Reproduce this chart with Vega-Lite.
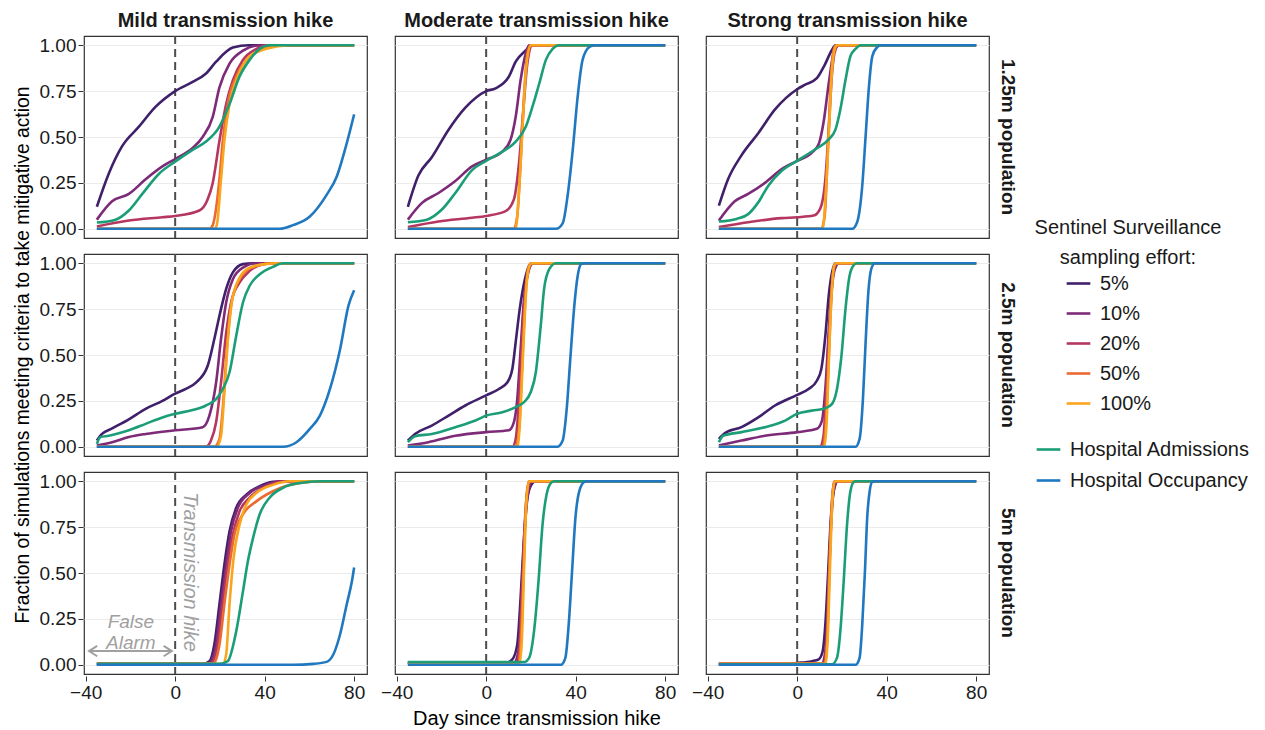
{
"$schema":"https://vega.github.io/schema/vega-lite/v6.json",
"background":"white",
"padding":{"left":13,"top":11,"right":0,"bottom":0},
"data":{"values":[
{"r":"1.25m","c":"Mild","s":"5%","x":-35,"y":0.12},{"r":"1.25m","c":"Mild","s":"5%","x":-29.7,"y":0.30},{"r":"1.25m","c":"Mild","s":"5%","x":-23.7,"y":0.45},{"r":"1.25m","c":"Mild","s":"5%","x":-16.2,"y":0.556},{"r":"1.25m","c":"Mild","s":"5%","x":-8.7,"y":0.665},{"r":"1.25m","c":"Mild","s":"5%","x":0,"y":0.75},{"r":"1.25m","c":"Mild","s":"5%","x":7.8,"y":0.80},{"r":"1.25m","c":"Mild","s":"5%","x":13.8,"y":0.846},{"r":"1.25m","c":"Mild","s":"5%","x":18.3,"y":0.91},{"r":"1.25m","c":"Mild","s":"5%","x":25.8,"y":0.987},{"r":"1.25m","c":"Mild","s":"5%","x":33,"y":1},{"r":"1.25m","c":"Mild","s":"5%","x":80,"y":1},
{"r":"1.25m","c":"Mild","s":"10%","x":-35,"y":0.05},{"r":"1.25m","c":"Mild","s":"10%","x":-28.2,"y":0.15},{"r":"1.25m","c":"Mild","s":"10%","x":-20.7,"y":0.19},{"r":"1.25m","c":"Mild","s":"10%","x":-13.2,"y":0.27},{"r":"1.25m","c":"Mild","s":"10%","x":-5.7,"y":0.34},{"r":"1.25m","c":"Mild","s":"10%","x":0,"y":0.38},{"r":"1.25m","c":"Mild","s":"10%","x":7.8,"y":0.44},{"r":"1.25m","c":"Mild","s":"10%","x":12.3,"y":0.50},{"r":"1.25m","c":"Mild","s":"10%","x":16.8,"y":0.61},{"r":"1.25m","c":"Mild","s":"10%","x":19.8,"y":0.77},{"r":"1.25m","c":"Mild","s":"10%","x":24.3,"y":0.90},{"r":"1.25m","c":"Mild","s":"10%","x":30.3,"y":0.97},{"r":"1.25m","c":"Mild","s":"10%","x":37.8,"y":1},{"r":"1.25m","c":"Mild","s":"10%","x":80,"y":1},
{"r":"1.25m","c":"Mild","s":"20%","x":-35,"y":0.013},{"r":"1.25m","c":"Mild","s":"20%","x":-20.7,"y":0.045},{"r":"1.25m","c":"Mild","s":"20%","x":-5.7,"y":0.063},{"r":"1.25m","c":"Mild","s":"20%","x":0,"y":0.07},{"r":"1.25m","c":"Mild","s":"20%","x":10.8,"y":0.10},{"r":"1.25m","c":"Mild","s":"20%","x":14.5,"y":0.16},{"r":"1.25m","c":"Mild","s":"20%","x":16.8,"y":0.25},{"r":"1.25m","c":"Mild","s":"20%","x":19.8,"y":0.48},{"r":"1.25m","c":"Mild","s":"20%","x":22.8,"y":0.68},{"r":"1.25m","c":"Mild","s":"20%","x":25.8,"y":0.81},{"r":"1.25m","c":"Mild","s":"20%","x":30.3,"y":0.92},{"r":"1.25m","c":"Mild","s":"20%","x":36.3,"y":0.98},{"r":"1.25m","c":"Mild","s":"20%","x":40.7,"y":1},{"r":"1.25m","c":"Mild","s":"20%","x":80,"y":1},
{"r":"1.25m","c":"Mild","s":"50%","x":-35,"y":0},{"r":"1.25m","c":"Mild","s":"50%","x":15.3,"y":0},{"r":"1.25m","c":"Mild","s":"50%","x":16.8,"y":0.02},{"r":"1.25m","c":"Mild","s":"50%","x":19.8,"y":0.27},{"r":"1.25m","c":"Mild","s":"50%","x":21.3,"y":0.48},{"r":"1.25m","c":"Mild","s":"50%","x":23.5,"y":0.68},{"r":"1.25m","c":"Mild","s":"50%","x":27.3,"y":0.83},{"r":"1.25m","c":"Mild","s":"50%","x":31.8,"y":0.92},{"r":"1.25m","c":"Mild","s":"50%","x":37.8,"y":0.97},{"r":"1.25m","c":"Mild","s":"50%","x":46.7,"y":1},{"r":"1.25m","c":"Mild","s":"50%","x":80,"y":1},
{"r":"1.25m","c":"Mild","s":"100%","x":-35,"y":0},{"r":"1.25m","c":"Mild","s":"100%","x":17.5,"y":0},{"r":"1.25m","c":"Mild","s":"100%","x":18.6,"y":0.02},{"r":"1.25m","c":"Mild","s":"100%","x":20.5,"y":0.27},{"r":"1.25m","c":"Mild","s":"100%","x":22,"y":0.48},{"r":"1.25m","c":"Mild","s":"100%","x":24.3,"y":0.68},{"r":"1.25m","c":"Mild","s":"100%","x":28,"y":0.83},{"r":"1.25m","c":"Mild","s":"100%","x":33.3,"y":0.94},{"r":"1.25m","c":"Mild","s":"100%","x":40.7,"y":0.98},{"r":"1.25m","c":"Mild","s":"100%","x":51,"y":1},{"r":"1.25m","c":"Mild","s":"100%","x":80,"y":1},
{"r":"1.25m","c":"Mild","s":"HA","x":-35,"y":0.034},{"r":"1.25m","c":"Mild","s":"HA","x":-26.7,"y":0.05},{"r":"1.25m","c":"Mild","s":"HA","x":-20.7,"y":0.10},{"r":"1.25m","c":"Mild","s":"HA","x":-14.7,"y":0.19},{"r":"1.25m","c":"Mild","s":"HA","x":-7.2,"y":0.30},{"r":"1.25m","c":"Mild","s":"HA","x":0,"y":0.366},{"r":"1.25m","c":"Mild","s":"HA","x":7.8,"y":0.43},{"r":"1.25m","c":"Mild","s":"HA","x":13.8,"y":0.475},{"r":"1.25m","c":"Mild","s":"HA","x":19.8,"y":0.556},{"r":"1.25m","c":"Mild","s":"HA","x":24.3,"y":0.68},{"r":"1.25m","c":"Mild","s":"HA","x":28.8,"y":0.83},{"r":"1.25m","c":"Mild","s":"HA","x":33.3,"y":0.92},{"r":"1.25m","c":"Mild","s":"HA","x":37.8,"y":0.98},{"r":"1.25m","c":"Mild","s":"HA","x":42.2,"y":1},{"r":"1.25m","c":"Mild","s":"HA","x":80,"y":1},
{"r":"1.25m","c":"Mild","s":"HO","x":-35,"y":0},{"r":"1.25m","c":"Mild","s":"HO","x":46.7,"y":0},{"r":"1.25m","c":"Mild","s":"HO","x":52.7,"y":0.02},{"r":"1.25m","c":"Mild","s":"HO","x":60.2,"y":0.067},{"r":"1.25m","c":"Mild","s":"HO","x":67.7,"y":0.185},{"r":"1.25m","c":"Mild","s":"HO","x":72.2,"y":0.284},{"r":"1.25m","c":"Mild","s":"HO","x":76.7,"y":0.466},{"r":"1.25m","c":"Mild","s":"HO","x":80,"y":0.623},

{"r":"1.25m","c":"Moderate","s":"5%","x":-35,"y":0.12},{"r":"1.25m","c":"Moderate","s":"5%","x":-30.3,"y":0.29},{"r":"1.25m","c":"Moderate","s":"5%","x":-24.3,"y":0.39},{"r":"1.25m","c":"Moderate","s":"5%","x":-16.8,"y":0.54},{"r":"1.25m","c":"Moderate","s":"5%","x":-9.3,"y":0.66},{"r":"1.25m","c":"Moderate","s":"5%","x":0,"y":0.75},{"r":"1.25m","c":"Moderate","s":"5%","x":4.2,"y":0.765},{"r":"1.25m","c":"Moderate","s":"5%","x":10.2,"y":0.83},{"r":"1.25m","c":"Moderate","s":"5%","x":13.2,"y":0.91},{"r":"1.25m","c":"Moderate","s":"5%","x":18.4,"y":0.98},{"r":"1.25m","c":"Moderate","s":"5%","x":19.9,"y":1},{"r":"1.25m","c":"Moderate","s":"5%","x":80,"y":1},
{"r":"1.25m","c":"Moderate","s":"10%","x":-35,"y":0.05},{"r":"1.25m","c":"Moderate","s":"10%","x":-28.8,"y":0.14},{"r":"1.25m","c":"Moderate","s":"10%","x":-21.3,"y":0.195},{"r":"1.25m","c":"Moderate","s":"10%","x":-13.8,"y":0.26},{"r":"1.25m","c":"Moderate","s":"10%","x":-6.3,"y":0.34},{"r":"1.25m","c":"Moderate","s":"10%","x":0,"y":0.376},{"r":"1.25m","c":"Moderate","s":"10%","x":7.2,"y":0.42},{"r":"1.25m","c":"Moderate","s":"10%","x":10.9,"y":0.485},{"r":"1.25m","c":"Moderate","s":"10%","x":13.2,"y":0.61},{"r":"1.25m","c":"Moderate","s":"10%","x":15.4,"y":0.81},{"r":"1.25m","c":"Moderate","s":"10%","x":17.7,"y":0.955},{"r":"1.25m","c":"Moderate","s":"10%","x":19.2,"y":1},{"r":"1.25m","c":"Moderate","s":"10%","x":80,"y":1},
{"r":"1.25m","c":"Moderate","s":"20%","x":-35,"y":0.01},{"r":"1.25m","c":"Moderate","s":"20%","x":-21.3,"y":0.04},{"r":"1.25m","c":"Moderate","s":"20%","x":-6.3,"y":0.06},{"r":"1.25m","c":"Moderate","s":"20%","x":0,"y":0.07},{"r":"1.25m","c":"Moderate","s":"20%","x":8.7,"y":0.096},{"r":"1.25m","c":"Moderate","s":"20%","x":12.4,"y":0.16},{"r":"1.25m","c":"Moderate","s":"20%","x":14.7,"y":0.36},{"r":"1.25m","c":"Moderate","s":"20%","x":16.5,"y":0.63},{"r":"1.25m","c":"Moderate","s":"20%","x":18.4,"y":0.90},{"r":"1.25m","c":"Moderate","s":"20%","x":20.7,"y":1},{"r":"1.25m","c":"Moderate","s":"20%","x":80,"y":1},
{"r":"1.25m","c":"Moderate","s":"50%","x":-35,"y":0},{"r":"1.25m","c":"Moderate","s":"50%","x":12.4,"y":0},{"r":"1.25m","c":"Moderate","s":"50%","x":13.9,"y":0.07},{"r":"1.25m","c":"Moderate","s":"50%","x":15.4,"y":0.36},{"r":"1.25m","c":"Moderate","s":"50%","x":16.9,"y":0.72},{"r":"1.25m","c":"Moderate","s":"50%","x":18.4,"y":0.955},{"r":"1.25m","c":"Moderate","s":"50%","x":19.9,"y":1},{"r":"1.25m","c":"Moderate","s":"50%","x":80,"y":1},
{"r":"1.25m","c":"Moderate","s":"100%","x":-35,"y":0},{"r":"1.25m","c":"Moderate","s":"100%","x":13.2,"y":0},{"r":"1.25m","c":"Moderate","s":"100%","x":14.7,"y":0.21},{"r":"1.25m","c":"Moderate","s":"100%","x":16.2,"y":0.54},{"r":"1.25m","c":"Moderate","s":"100%","x":17.7,"y":0.85},{"r":"1.25m","c":"Moderate","s":"100%","x":19.9,"y":1},{"r":"1.25m","c":"Moderate","s":"100%","x":80,"y":1},
{"r":"1.25m","c":"Moderate","s":"HA","x":-35,"y":0.036},{"r":"1.25m","c":"Moderate","s":"HA","x":-26.5,"y":0.05},{"r":"1.25m","c":"Moderate","s":"HA","x":-19.8,"y":0.105},{"r":"1.25m","c":"Moderate","s":"HA","x":-13.8,"y":0.195},{"r":"1.25m","c":"Moderate","s":"HA","x":-6.3,"y":0.32},{"r":"1.25m","c":"Moderate","s":"HA","x":0,"y":0.37},{"r":"1.25m","c":"Moderate","s":"HA","x":7.2,"y":0.42},{"r":"1.25m","c":"Moderate","s":"HA","x":13.2,"y":0.475},{"r":"1.25m","c":"Moderate","s":"HA","x":17.7,"y":0.556},{"r":"1.25m","c":"Moderate","s":"HA","x":20.7,"y":0.665},{"r":"1.25m","c":"Moderate","s":"HA","x":23.7,"y":0.79},{"r":"1.25m","c":"Moderate","s":"HA","x":26.7,"y":0.92},{"r":"1.25m","c":"Moderate","s":"HA","x":29.7,"y":0.98},{"r":"1.25m","c":"Moderate","s":"HA","x":32.7,"y":1},{"r":"1.25m","c":"Moderate","s":"HA","x":80,"y":1},
{"r":"1.25m","c":"Moderate","s":"HO","x":-35,"y":0},{"r":"1.25m","c":"Moderate","s":"HO","x":31.2,"y":0},{"r":"1.25m","c":"Moderate","s":"HO","x":34.2,"y":0.03},{"r":"1.25m","c":"Moderate","s":"HO","x":36.4,"y":0.18},{"r":"1.25m","c":"Moderate","s":"HO","x":38.7,"y":0.43},{"r":"1.25m","c":"Moderate","s":"HO","x":40.9,"y":0.72},{"r":"1.25m","c":"Moderate","s":"HO","x":43.1,"y":0.92},{"r":"1.25m","c":"Moderate","s":"HO","x":46.1,"y":0.99},{"r":"1.25m","c":"Moderate","s":"HO","x":48.4,"y":1},{"r":"1.25m","c":"Moderate","s":"HO","x":80,"y":1},

{"r":"1.25m","c":"Strong","s":"5%","x":-35,"y":0.126},{"r":"1.25m","c":"Strong","s":"5%","x":-30.9,"y":0.27},{"r":"1.25m","c":"Strong","s":"5%","x":-24.9,"y":0.40},{"r":"1.25m","c":"Strong","s":"5%","x":-17.4,"y":0.52},{"r":"1.25m","c":"Strong","s":"5%","x":-9.9,"y":0.65},{"r":"1.25m","c":"Strong","s":"5%","x":0,"y":0.76},{"r":"1.25m","c":"Strong","s":"5%","x":3.6,"y":0.785},{"r":"1.25m","c":"Strong","s":"5%","x":8.8,"y":0.82},{"r":"1.25m","c":"Strong","s":"5%","x":11.8,"y":0.88},{"r":"1.25m","c":"Strong","s":"5%","x":15.6,"y":0.975},{"r":"1.25m","c":"Strong","s":"5%","x":17.1,"y":1},{"r":"1.25m","c":"Strong","s":"5%","x":80,"y":1},
{"r":"1.25m","c":"Strong","s":"10%","x":-35,"y":0.045},{"r":"1.25m","c":"Strong","s":"10%","x":-27.9,"y":0.15},{"r":"1.25m","c":"Strong","s":"10%","x":-21.9,"y":0.19},{"r":"1.25m","c":"Strong","s":"10%","x":-14.4,"y":0.25},{"r":"1.25m","c":"Strong","s":"10%","x":-6.9,"y":0.325},{"r":"1.25m","c":"Strong","s":"10%","x":0,"y":0.37},{"r":"1.25m","c":"Strong","s":"10%","x":6.6,"y":0.415},{"r":"1.25m","c":"Strong","s":"10%","x":9.6,"y":0.46},{"r":"1.25m","c":"Strong","s":"10%","x":11.8,"y":0.58},{"r":"1.25m","c":"Strong","s":"10%","x":14.1,"y":0.79},{"r":"1.25m","c":"Strong","s":"10%","x":16.3,"y":0.957},{"r":"1.25m","c":"Strong","s":"10%","x":18.6,"y":1},{"r":"1.25m","c":"Strong","s":"10%","x":80,"y":1},
{"r":"1.25m","c":"Strong","s":"20%","x":-35,"y":0.01},{"r":"1.25m","c":"Strong","s":"20%","x":-21.9,"y":0.036},{"r":"1.25m","c":"Strong","s":"20%","x":-6.9,"y":0.058},{"r":"1.25m","c":"Strong","s":"20%","x":0,"y":0.063},{"r":"1.25m","c":"Strong","s":"20%","x":7.3,"y":0.072},{"r":"1.25m","c":"Strong","s":"20%","x":10.3,"y":0.11},{"r":"1.25m","c":"Strong","s":"20%","x":12.6,"y":0.27},{"r":"1.25m","c":"Strong","s":"20%","x":14.1,"y":0.54},{"r":"1.25m","c":"Strong","s":"20%","x":15.6,"y":0.85},{"r":"1.25m","c":"Strong","s":"20%","x":17.1,"y":0.975},{"r":"1.25m","c":"Strong","s":"20%","x":18.6,"y":1},{"r":"1.25m","c":"Strong","s":"20%","x":80,"y":1},
{"r":"1.25m","c":"Strong","s":"50%","x":-35,"y":0},{"r":"1.25m","c":"Strong","s":"50%","x":10.8,"y":0},{"r":"1.25m","c":"Strong","s":"50%","x":12.3,"y":0.07},{"r":"1.25m","c":"Strong","s":"50%","x":13.8,"y":0.45},{"r":"1.25m","c":"Strong","s":"50%","x":15.1,"y":0.81},{"r":"1.25m","c":"Strong","s":"50%","x":16.3,"y":0.975},{"r":"1.25m","c":"Strong","s":"50%","x":17.4,"y":1},{"r":"1.25m","c":"Strong","s":"50%","x":80,"y":1},
{"r":"1.25m","c":"Strong","s":"100%","x":-35,"y":0},{"r":"1.25m","c":"Strong","s":"100%","x":11.4,"y":0},{"r":"1.25m","c":"Strong","s":"100%","x":12.9,"y":0.22},{"r":"1.25m","c":"Strong","s":"100%","x":14.4,"y":0.58},{"r":"1.25m","c":"Strong","s":"100%","x":15.6,"y":0.87},{"r":"1.25m","c":"Strong","s":"100%","x":17.1,"y":0.99},{"r":"1.25m","c":"Strong","s":"100%","x":17.8,"y":1},{"r":"1.25m","c":"Strong","s":"100%","x":80,"y":1},
{"r":"1.25m","c":"Strong","s":"HA","x":-35,"y":0.04},{"r":"1.25m","c":"Strong","s":"HA","x":-27.1,"y":0.054},{"r":"1.25m","c":"Strong","s":"HA","x":-21.9,"y":0.08},{"r":"1.25m","c":"Strong","s":"HA","x":-17.4,"y":0.144},{"r":"1.25m","c":"Strong","s":"HA","x":-12.9,"y":0.235},{"r":"1.25m","c":"Strong","s":"HA","x":-6.9,"y":0.316},{"r":"1.25m","c":"Strong","s":"HA","x":0,"y":0.37},{"r":"1.25m","c":"Strong","s":"HA","x":8.1,"y":0.433},{"r":"1.25m","c":"Strong","s":"HA","x":14.1,"y":0.487},{"r":"1.25m","c":"Strong","s":"HA","x":17.1,"y":0.54},{"r":"1.25m","c":"Strong","s":"HA","x":19.3,"y":0.65},{"r":"1.25m","c":"Strong","s":"HA","x":21.6,"y":0.81},{"r":"1.25m","c":"Strong","s":"HA","x":23.8,"y":0.94},{"r":"1.25m","c":"Strong","s":"HA","x":26.1,"y":0.98},{"r":"1.25m","c":"Strong","s":"HA","x":28.3,"y":1},{"r":"1.25m","c":"Strong","s":"HA","x":80,"y":1},
{"r":"1.25m","c":"Strong","s":"HO","x":-35,"y":0},{"r":"1.25m","c":"Strong","s":"HO","x":24.6,"y":0},{"r":"1.25m","c":"Strong","s":"HO","x":26.8,"y":0.036},{"r":"1.25m","c":"Strong","s":"HO","x":29.1,"y":0.235},{"r":"1.25m","c":"Strong","s":"HO","x":30.6,"y":0.505},{"r":"1.25m","c":"Strong","s":"HO","x":32.1,"y":0.776},{"r":"1.25m","c":"Strong","s":"HO","x":33.6,"y":0.94},{"r":"1.25m","c":"Strong","s":"HO","x":35.8,"y":0.99},{"r":"1.25m","c":"Strong","s":"HO","x":37.3,"y":1},{"r":"1.25m","c":"Strong","s":"HO","x":80,"y":1},

{"r":"2.5m","c":"Mild","s":"5%","x":-35,"y":0.034},{"r":"2.5m","c":"Mild","s":"5%","x":-32.7,"y":0.07},{"r":"2.5m","c":"Mild","s":"5%","x":-28.2,"y":0.10},{"r":"2.5m","c":"Mild","s":"5%","x":-20.7,"y":0.15},{"r":"2.5m","c":"Mild","s":"5%","x":-13.2,"y":0.207},{"r":"2.5m","c":"Mild","s":"5%","x":-5.7,"y":0.25},{"r":"2.5m","c":"Mild","s":"5%","x":0,"y":0.29},{"r":"2.5m","c":"Mild","s":"5%","x":4.8,"y":0.315},{"r":"2.5m","c":"Mild","s":"5%","x":9.3,"y":0.35},{"r":"2.5m","c":"Mild","s":"5%","x":14.5,"y":0.44},{"r":"2.5m","c":"Mild","s":"5%","x":17.5,"y":0.587},{"r":"2.5m","c":"Mild","s":"5%","x":19.8,"y":0.714},{"r":"2.5m","c":"Mild","s":"5%","x":22.8,"y":0.86},{"r":"2.5m","c":"Mild","s":"5%","x":25.8,"y":0.95},{"r":"2.5m","c":"Mild","s":"5%","x":30.3,"y":0.995},{"r":"2.5m","c":"Mild","s":"5%","x":34.8,"y":1},{"r":"2.5m","c":"Mild","s":"5%","x":80,"y":1},
{"r":"2.5m","c":"Mild","s":"10%","x":-35,"y":0.007},{"r":"2.5m","c":"Mild","s":"10%","x":-28.2,"y":0.025},{"r":"2.5m","c":"Mild","s":"10%","x":-20.7,"y":0.053},{"r":"2.5m","c":"Mild","s":"10%","x":-13.2,"y":0.07},{"r":"2.5m","c":"Mild","s":"10%","x":0,"y":0.09},{"r":"2.5m","c":"Mild","s":"10%","x":12.3,"y":0.107},{"r":"2.5m","c":"Mild","s":"10%","x":15.3,"y":0.17},{"r":"2.5m","c":"Mild","s":"10%","x":18.3,"y":0.35},{"r":"2.5m","c":"Mild","s":"10%","x":20.5,"y":0.587},{"r":"2.5m","c":"Mild","s":"10%","x":22.8,"y":0.786},{"r":"2.5m","c":"Mild","s":"10%","x":25.8,"y":0.913},{"r":"2.5m","c":"Mild","s":"10%","x":30.3,"y":0.976},{"r":"2.5m","c":"Mild","s":"10%","x":36.3,"y":1},{"r":"2.5m","c":"Mild","s":"10%","x":80,"y":1},
{"r":"2.5m","c":"Mild","s":"20%","x":-35,"y":0},{"r":"2.5m","c":"Mild","s":"20%","x":13.8,"y":0},{"r":"2.5m","c":"Mild","s":"20%","x":16,"y":0.034},{"r":"2.5m","c":"Mild","s":"20%","x":18.3,"y":0.134},{"r":"2.5m","c":"Mild","s":"20%","x":20.5,"y":0.35},{"r":"2.5m","c":"Mild","s":"20%","x":22.8,"y":0.62},{"r":"2.5m","c":"Mild","s":"20%","x":25,"y":0.786},{"r":"2.5m","c":"Mild","s":"20%","x":28.8,"y":0.895},{"r":"2.5m","c":"Mild","s":"20%","x":33.3,"y":0.958},{"r":"2.5m","c":"Mild","s":"20%","x":39.3,"y":0.995},{"r":"2.5m","c":"Mild","s":"20%","x":43.7,"y":1},{"r":"2.5m","c":"Mild","s":"20%","x":80,"y":1},
{"r":"2.5m","c":"Mild","s":"50%","x":-35,"y":0},{"r":"2.5m","c":"Mild","s":"50%","x":17.5,"y":0},{"r":"2.5m","c":"Mild","s":"50%","x":19.8,"y":0.043},{"r":"2.5m","c":"Mild","s":"50%","x":21.6,"y":0.26},{"r":"2.5m","c":"Mild","s":"50%","x":23.1,"y":0.53},{"r":"2.5m","c":"Mild","s":"50%","x":25,"y":0.77},{"r":"2.5m","c":"Mild","s":"50%","x":28,"y":0.895},{"r":"2.5m","c":"Mild","s":"50%","x":31.8,"y":0.958},{"r":"2.5m","c":"Mild","s":"50%","x":37.8,"y":0.99},{"r":"2.5m","c":"Mild","s":"50%","x":43.7,"y":1},{"r":"2.5m","c":"Mild","s":"50%","x":80,"y":1},
{"r":"2.5m","c":"Mild","s":"100%","x":-35,"y":0},{"r":"2.5m","c":"Mild","s":"100%","x":18.6,"y":0},{"r":"2.5m","c":"Mild","s":"100%","x":20.5,"y":0.06},{"r":"2.5m","c":"Mild","s":"100%","x":22,"y":0.297},{"r":"2.5m","c":"Mild","s":"100%","x":23.5,"y":0.57},{"r":"2.5m","c":"Mild","s":"100%","x":25.5,"y":0.80},{"r":"2.5m","c":"Mild","s":"100%","x":28.8,"y":0.92},{"r":"2.5m","c":"Mild","s":"100%","x":33.3,"y":0.976},{"r":"2.5m","c":"Mild","s":"100%","x":40.7,"y":0.996},{"r":"2.5m","c":"Mild","s":"100%","x":46.7,"y":1},{"r":"2.5m","c":"Mild","s":"100%","x":80,"y":1},
{"r":"2.5m","c":"Mild","s":"HA","x":-35,"y":0.016},{"r":"2.5m","c":"Mild","s":"HA","x":-33.4,"y":0.053},{"r":"2.5m","c":"Mild","s":"HA","x":-29.7,"y":0.06},{"r":"2.5m","c":"Mild","s":"HA","x":-20.7,"y":0.09},{"r":"2.5m","c":"Mild","s":"HA","x":-13.2,"y":0.125},{"r":"2.5m","c":"Mild","s":"HA","x":-5.7,"y":0.16},{"r":"2.5m","c":"Mild","s":"HA","x":0,"y":0.18},{"r":"2.5m","c":"Mild","s":"HA","x":7.8,"y":0.20},{"r":"2.5m","c":"Mild","s":"HA","x":13.8,"y":0.225},{"r":"2.5m","c":"Mild","s":"HA","x":18.3,"y":0.26},{"r":"2.5m","c":"Mild","s":"HA","x":21.3,"y":0.315},{"r":"2.5m","c":"Mild","s":"HA","x":24.3,"y":0.406},{"r":"2.5m","c":"Mild","s":"HA","x":27.3,"y":0.605},{"r":"2.5m","c":"Mild","s":"HA","x":30.3,"y":0.786},{"r":"2.5m","c":"Mild","s":"HA","x":33.3,"y":0.877},{"r":"2.5m","c":"Mild","s":"HA","x":37.8,"y":0.94},{"r":"2.5m","c":"Mild","s":"HA","x":43.7,"y":0.98},{"r":"2.5m","c":"Mild","s":"HA","x":48.2,"y":1},{"r":"2.5m","c":"Mild","s":"HA","x":80,"y":1},
{"r":"2.5m","c":"Mild","s":"HO","x":-35,"y":0},{"r":"2.5m","c":"Mild","s":"HO","x":48.2,"y":0},{"r":"2.5m","c":"Mild","s":"HO","x":54.2,"y":0.025},{"r":"2.5m","c":"Mild","s":"HO","x":60.2,"y":0.098},{"r":"2.5m","c":"Mild","s":"HO","x":64.7,"y":0.17},{"r":"2.5m","c":"Mild","s":"HO","x":69.2,"y":0.315},{"r":"2.5m","c":"Mild","s":"HO","x":73.7,"y":0.53},{"r":"2.5m","c":"Mild","s":"HO","x":77.5,"y":0.77},{"r":"2.5m","c":"Mild","s":"HO","x":80,"y":0.853},

{"r":"2.5m","c":"Moderate","s":"5%","x":-35,"y":0.034},{"r":"2.5m","c":"Moderate","s":"5%","x":-31.8,"y":0.07},{"r":"2.5m","c":"Moderate","s":"5%","x":-24.3,"y":0.116},{"r":"2.5m","c":"Moderate","s":"5%","x":-16.8,"y":0.17},{"r":"2.5m","c":"Moderate","s":"5%","x":-9.3,"y":0.225},{"r":"2.5m","c":"Moderate","s":"5%","x":0,"y":0.28},{"r":"2.5m","c":"Moderate","s":"5%","x":5.7,"y":0.315},{"r":"2.5m","c":"Moderate","s":"5%","x":9.4,"y":0.35},{"r":"2.5m","c":"Moderate","s":"5%","x":11.7,"y":0.424},{"r":"2.5m","c":"Moderate","s":"5%","x":13.2,"y":0.57},{"r":"2.5m","c":"Moderate","s":"5%","x":15,"y":0.75},{"r":"2.5m","c":"Moderate","s":"5%","x":17,"y":0.895},{"r":"2.5m","c":"Moderate","s":"5%","x":19.2,"y":0.985},{"r":"2.5m","c":"Moderate","s":"5%","x":20.7,"y":1},{"r":"2.5m","c":"Moderate","s":"5%","x":80,"y":1},
{"r":"2.5m","c":"Moderate","s":"10%","x":-35,"y":0.007},{"r":"2.5m","c":"Moderate","s":"10%","x":-25.8,"y":0.025},{"r":"2.5m","c":"Moderate","s":"10%","x":-13.8,"y":0.06},{"r":"2.5m","c":"Moderate","s":"10%","x":0,"y":0.08},{"r":"2.5m","c":"Moderate","s":"10%","x":10.2,"y":0.09},{"r":"2.5m","c":"Moderate","s":"10%","x":12.4,"y":0.134},{"r":"2.5m","c":"Moderate","s":"10%","x":13.9,"y":0.26},{"r":"2.5m","c":"Moderate","s":"10%","x":15.4,"y":0.53},{"r":"2.5m","c":"Moderate","s":"10%","x":16.9,"y":0.80},{"r":"2.5m","c":"Moderate","s":"10%","x":19.2,"y":0.967},{"r":"2.5m","c":"Moderate","s":"10%","x":20.7,"y":1},{"r":"2.5m","c":"Moderate","s":"10%","x":80,"y":1},
{"r":"2.5m","c":"Moderate","s":"20%","x":-35,"y":0},{"r":"2.5m","c":"Moderate","s":"20%","x":11.7,"y":0},{"r":"2.5m","c":"Moderate","s":"20%","x":13.2,"y":0.043},{"r":"2.5m","c":"Moderate","s":"20%","x":14.7,"y":0.26},{"r":"2.5m","c":"Moderate","s":"20%","x":16.2,"y":0.62},{"r":"2.5m","c":"Moderate","s":"20%","x":17.7,"y":0.877},{"r":"2.5m","c":"Moderate","s":"20%","x":19.9,"y":0.99},{"r":"2.5m","c":"Moderate","s":"20%","x":21.4,"y":1},{"r":"2.5m","c":"Moderate","s":"20%","x":80,"y":1},
{"r":"2.5m","c":"Moderate","s":"50%","x":-35,"y":0},{"r":"2.5m","c":"Moderate","s":"50%","x":13.2,"y":0},{"r":"2.5m","c":"Moderate","s":"50%","x":14.7,"y":0.098},{"r":"2.5m","c":"Moderate","s":"50%","x":15.9,"y":0.39},{"r":"2.5m","c":"Moderate","s":"50%","x":17.1,"y":0.714},{"r":"2.5m","c":"Moderate","s":"50%","x":18.4,"y":0.95},{"r":"2.5m","c":"Moderate","s":"50%","x":19.9,"y":1},{"r":"2.5m","c":"Moderate","s":"50%","x":80,"y":1},
{"r":"2.5m","c":"Moderate","s":"100%","x":-35,"y":0},{"r":"2.5m","c":"Moderate","s":"100%","x":13.9,"y":0},{"r":"2.5m","c":"Moderate","s":"100%","x":15.1,"y":0.134},{"r":"2.5m","c":"Moderate","s":"100%","x":16.2,"y":0.424},{"r":"2.5m","c":"Moderate","s":"100%","x":17.4,"y":0.75},{"r":"2.5m","c":"Moderate","s":"100%","x":18.9,"y":0.967},{"r":"2.5m","c":"Moderate","s":"100%","x":20.4,"y":1},{"r":"2.5m","c":"Moderate","s":"100%","x":80,"y":1},
{"r":"2.5m","c":"Moderate","s":"HA","x":-35,"y":0.025},{"r":"2.5m","c":"Moderate","s":"HA","x":-31.8,"y":0.058},{"r":"2.5m","c":"Moderate","s":"HA","x":-24.3,"y":0.07},{"r":"2.5m","c":"Moderate","s":"HA","x":-13.8,"y":0.107},{"r":"2.5m","c":"Moderate","s":"HA","x":-4.8,"y":0.143},{"r":"2.5m","c":"Moderate","s":"HA","x":0,"y":0.17},{"r":"2.5m","c":"Moderate","s":"HA","x":7.2,"y":0.188},{"r":"2.5m","c":"Moderate","s":"HA","x":13.2,"y":0.216},{"r":"2.5m","c":"Moderate","s":"HA","x":16.9,"y":0.243},{"r":"2.5m","c":"Moderate","s":"HA","x":19.9,"y":0.297},{"r":"2.5m","c":"Moderate","s":"HA","x":22.2,"y":0.406},{"r":"2.5m","c":"Moderate","s":"HA","x":24.4,"y":0.66},{"r":"2.5m","c":"Moderate","s":"HA","x":25.9,"y":0.86},{"r":"2.5m","c":"Moderate","s":"HA","x":28.2,"y":0.967},{"r":"2.5m","c":"Moderate","s":"HA","x":31.2,"y":1},{"r":"2.5m","c":"Moderate","s":"HA","x":80,"y":1},
{"r":"2.5m","c":"Moderate","s":"HO","x":-35,"y":0},{"r":"2.5m","c":"Moderate","s":"HO","x":31.9,"y":0},{"r":"2.5m","c":"Moderate","s":"HO","x":34.2,"y":0.034},{"r":"2.5m","c":"Moderate","s":"HO","x":36,"y":0.206},{"r":"2.5m","c":"Moderate","s":"HO","x":37.6,"y":0.478},{"r":"2.5m","c":"Moderate","s":"HO","x":39.4,"y":0.768},{"r":"2.5m","c":"Moderate","s":"HO","x":40.9,"y":0.93},{"r":"2.5m","c":"Moderate","s":"HO","x":42.4,"y":0.995},{"r":"2.5m","c":"Moderate","s":"HO","x":43.9,"y":1},{"r":"2.5m","c":"Moderate","s":"HO","x":80,"y":1},

{"r":"2.5m","c":"Strong","s":"5%","x":-35,"y":0.043},{"r":"2.5m","c":"Strong","s":"5%","x":-32.4,"y":0.074},{"r":"2.5m","c":"Strong","s":"5%","x":-24.9,"y":0.107},{"r":"2.5m","c":"Strong","s":"5%","x":-17.4,"y":0.16},{"r":"2.5m","c":"Strong","s":"5%","x":-9.9,"y":0.225},{"r":"2.5m","c":"Strong","s":"5%","x":0,"y":0.283},{"r":"2.5m","c":"Strong","s":"5%","x":5.1,"y":0.315},{"r":"2.5m","c":"Strong","s":"5%","x":8.8,"y":0.36},{"r":"2.5m","c":"Strong","s":"5%","x":10.8,"y":0.424},{"r":"2.5m","c":"Strong","s":"5%","x":12.6,"y":0.605},{"r":"2.5m","c":"Strong","s":"5%","x":14.1,"y":0.822},{"r":"2.5m","c":"Strong","s":"5%","x":15.6,"y":0.95},{"r":"2.5m","c":"Strong","s":"5%","x":17.1,"y":1},{"r":"2.5m","c":"Strong","s":"5%","x":80,"y":1},
{"r":"2.5m","c":"Strong","s":"10%","x":-35,"y":0.007},{"r":"2.5m","c":"Strong","s":"10%","x":-24.9,"y":0.034},{"r":"2.5m","c":"Strong","s":"10%","x":-14.4,"y":0.06},{"r":"2.5m","c":"Strong","s":"10%","x":0,"y":0.08},{"r":"2.5m","c":"Strong","s":"10%","x":8.8,"y":0.098},{"r":"2.5m","c":"Strong","s":"10%","x":11.1,"y":0.143},{"r":"2.5m","c":"Strong","s":"10%","x":12.6,"y":0.315},{"r":"2.5m","c":"Strong","s":"10%","x":14.1,"y":0.623},{"r":"2.5m","c":"Strong","s":"10%","x":15.6,"y":0.877},{"r":"2.5m","c":"Strong","s":"10%","x":17.4,"y":0.985},{"r":"2.5m","c":"Strong","s":"10%","x":18.6,"y":1},{"r":"2.5m","c":"Strong","s":"10%","x":80,"y":1},
{"r":"2.5m","c":"Strong","s":"20%","x":-35,"y":0},{"r":"2.5m","c":"Strong","s":"20%","x":10.3,"y":0},{"r":"2.5m","c":"Strong","s":"20%","x":11.8,"y":0.06},{"r":"2.5m","c":"Strong","s":"20%","x":13,"y":0.315},{"r":"2.5m","c":"Strong","s":"20%","x":14.4,"y":0.66},{"r":"2.5m","c":"Strong","s":"20%","x":15.6,"y":0.895},{"r":"2.5m","c":"Strong","s":"20%","x":17.1,"y":1},{"r":"2.5m","c":"Strong","s":"20%","x":80,"y":1},
{"r":"2.5m","c":"Strong","s":"50%","x":-35,"y":0},{"r":"2.5m","c":"Strong","s":"50%","x":11.4,"y":0},{"r":"2.5m","c":"Strong","s":"50%","x":12.6,"y":0.098},{"r":"2.5m","c":"Strong","s":"50%","x":13.8,"y":0.39},{"r":"2.5m","c":"Strong","s":"50%","x":15,"y":0.75},{"r":"2.5m","c":"Strong","s":"50%","x":16.3,"y":0.967},{"r":"2.5m","c":"Strong","s":"50%","x":17.4,"y":1},{"r":"2.5m","c":"Strong","s":"50%","x":80,"y":1},
{"r":"2.5m","c":"Strong","s":"100%","x":-35,"y":0},{"r":"2.5m","c":"Strong","s":"100%","x":12.1,"y":0},{"r":"2.5m","c":"Strong","s":"100%","x":13.2,"y":0.134},{"r":"2.5m","c":"Strong","s":"100%","x":14.2,"y":0.478},{"r":"2.5m","c":"Strong","s":"100%","x":15.3,"y":0.804},{"r":"2.5m","c":"Strong","s":"100%","x":16.5,"y":0.985},{"r":"2.5m","c":"Strong","s":"100%","x":17.4,"y":1},{"r":"2.5m","c":"Strong","s":"100%","x":80,"y":1},
{"r":"2.5m","c":"Strong","s":"HA","x":-35,"y":0.025},{"r":"2.5m","c":"Strong","s":"HA","x":-33.1,"y":0.06},{"r":"2.5m","c":"Strong","s":"HA","x":-24.9,"y":0.08},{"r":"2.5m","c":"Strong","s":"HA","x":-14.4,"y":0.107},{"r":"2.5m","c":"Strong","s":"HA","x":-5.4,"y":0.143},{"r":"2.5m","c":"Strong","s":"HA","x":0,"y":0.18},{"r":"2.5m","c":"Strong","s":"HA","x":6.6,"y":0.197},{"r":"2.5m","c":"Strong","s":"HA","x":12.6,"y":0.21},{"r":"2.5m","c":"Strong","s":"HA","x":15.6,"y":0.234},{"r":"2.5m","c":"Strong","s":"HA","x":17.8,"y":0.315},{"r":"2.5m","c":"Strong","s":"HA","x":19.8,"y":0.496},{"r":"2.5m","c":"Strong","s":"HA","x":21.6,"y":0.75},{"r":"2.5m","c":"Strong","s":"HA","x":23.4,"y":0.93},{"r":"2.5m","c":"Strong","s":"HA","x":25.3,"y":0.99},{"r":"2.5m","c":"Strong","s":"HA","x":26.8,"y":1},{"r":"2.5m","c":"Strong","s":"HA","x":80,"y":1},
{"r":"2.5m","c":"Strong","s":"HO","x":-35,"y":0},{"r":"2.5m","c":"Strong","s":"HO","x":26.1,"y":0},{"r":"2.5m","c":"Strong","s":"HO","x":27.9,"y":0.043},{"r":"2.5m","c":"Strong","s":"HO","x":29.4,"y":0.26},{"r":"2.5m","c":"Strong","s":"HO","x":30.6,"y":0.57},{"r":"2.5m","c":"Strong","s":"HO","x":31.8,"y":0.84},{"r":"2.5m","c":"Strong","s":"HO","x":33.3,"y":0.976},{"r":"2.5m","c":"Strong","s":"HO","x":34.8,"y":1},{"r":"2.5m","c":"Strong","s":"HO","x":80,"y":1},

{"r":"5m","c":"Mild","s":"5%","x":-35,"y":0.005},{"r":"5m","c":"Mild","s":"5%","x":12.3,"y":0.005},{"r":"5m","c":"Mild","s":"5%","x":15.3,"y":0.02},{"r":"5m","c":"Mild","s":"5%","x":17.5,"y":0.11},{"r":"5m","c":"Mild","s":"5%","x":19.8,"y":0.33},{"r":"5m","c":"Mild","s":"5%","x":22,"y":0.546},{"r":"5m","c":"Mild","s":"5%","x":24.3,"y":0.728},{"r":"5m","c":"Mild","s":"5%","x":27.3,"y":0.855},{"r":"5m","c":"Mild","s":"5%","x":31.8,"y":0.927},{"r":"5m","c":"Mild","s":"5%","x":37.8,"y":0.973},{"r":"5m","c":"Mild","s":"5%","x":43.7,"y":0.996},{"r":"5m","c":"Mild","s":"5%","x":49.7,"y":1},{"r":"5m","c":"Mild","s":"5%","x":80,"y":1},
{"r":"5m","c":"Mild","s":"10%","x":-35,"y":0.005},{"r":"5m","c":"Mild","s":"10%","x":14.5,"y":0.005},{"r":"5m","c":"Mild","s":"10%","x":16.5,"y":0.03},{"r":"5m","c":"Mild","s":"10%","x":18.3,"y":0.11},{"r":"5m","c":"Mild","s":"10%","x":20.5,"y":0.33},{"r":"5m","c":"Mild","s":"10%","x":22.8,"y":0.546},{"r":"5m","c":"Mild","s":"10%","x":25,"y":0.728},{"r":"5m","c":"Mild","s":"10%","x":28,"y":0.855},{"r":"5m","c":"Mild","s":"10%","x":33.3,"y":0.936},{"r":"5m","c":"Mild","s":"10%","x":40.7,"y":0.98},{"r":"5m","c":"Mild","s":"10%","x":46.7,"y":1},{"r":"5m","c":"Mild","s":"10%","x":80,"y":1},
{"r":"5m","c":"Mild","s":"20%","x":-35,"y":0.005},{"r":"5m","c":"Mild","s":"20%","x":16,"y":0.005},{"r":"5m","c":"Mild","s":"20%","x":17.5,"y":0.03},{"r":"5m","c":"Mild","s":"20%","x":19,"y":0.11},{"r":"5m","c":"Mild","s":"20%","x":21.3,"y":0.33},{"r":"5m","c":"Mild","s":"20%","x":23.5,"y":0.546},{"r":"5m","c":"Mild","s":"20%","x":25.8,"y":0.71},{"r":"5m","c":"Mild","s":"20%","x":28.8,"y":0.837},{"r":"5m","c":"Mild","s":"20%","x":33.3,"y":0.91},{"r":"5m","c":"Mild","s":"20%","x":40.7,"y":0.973},{"r":"5m","c":"Mild","s":"20%","x":49.7,"y":1},{"r":"5m","c":"Mild","s":"20%","x":80,"y":1},
{"r":"5m","c":"Mild","s":"50%","x":-35,"y":0.005},{"r":"5m","c":"Mild","s":"50%","x":16.8,"y":0.005},{"r":"5m","c":"Mild","s":"50%","x":18.3,"y":0.03},{"r":"5m","c":"Mild","s":"50%","x":19.8,"y":0.11},{"r":"5m","c":"Mild","s":"50%","x":22,"y":0.33},{"r":"5m","c":"Mild","s":"50%","x":24.3,"y":0.546},{"r":"5m","c":"Mild","s":"50%","x":26.5,"y":0.71},{"r":"5m","c":"Mild","s":"50%","x":30.3,"y":0.82},{"r":"5m","c":"Mild","s":"50%","x":36.3,"y":0.89},{"r":"5m","c":"Mild","s":"50%","x":43.7,"y":0.945},{"r":"5m","c":"Mild","s":"50%","x":51.2,"y":0.98},{"r":"5m","c":"Mild","s":"50%","x":60.2,"y":0.996},{"r":"5m","c":"Mild","s":"50%","x":64.7,"y":1},{"r":"5m","c":"Mild","s":"50%","x":80,"y":1},
{"r":"5m","c":"Mild","s":"100%","x":-35,"y":0.005},{"r":"5m","c":"Mild","s":"100%","x":21.3,"y":0.005},{"r":"5m","c":"Mild","s":"100%","x":22.8,"y":0.056},{"r":"5m","c":"Mild","s":"100%","x":24.3,"y":0.33},{"r":"5m","c":"Mild","s":"100%","x":26.1,"y":0.58},{"r":"5m","c":"Mild","s":"100%","x":28.8,"y":0.764},{"r":"5m","c":"Mild","s":"100%","x":31.8,"y":0.873},{"r":"5m","c":"Mild","s":"100%","x":36.3,"y":0.936},{"r":"5m","c":"Mild","s":"100%","x":43.7,"y":0.98},{"r":"5m","c":"Mild","s":"100%","x":51.2,"y":1},{"r":"5m","c":"Mild","s":"100%","x":80,"y":1},
{"r":"5m","c":"Mild","s":"HA","x":-35,"y":0.005},{"r":"5m","c":"Mild","s":"HA","x":19.8,"y":0.005},{"r":"5m","c":"Mild","s":"HA","x":23.5,"y":0.02},{"r":"5m","c":"Mild","s":"HA","x":27.3,"y":0.183},{"r":"5m","c":"Mild","s":"HA","x":30.3,"y":0.40},{"r":"5m","c":"Mild","s":"HA","x":32.5,"y":0.564},{"r":"5m","c":"Mild","s":"HA","x":34.8,"y":0.69},{"r":"5m","c":"Mild","s":"HA","x":37.8,"y":0.82},{"r":"5m","c":"Mild","s":"HA","x":42.2,"y":0.91},{"r":"5m","c":"Mild","s":"HA","x":48.2,"y":0.964},{"r":"5m","c":"Mild","s":"HA","x":55.7,"y":0.99},{"r":"5m","c":"Mild","s":"HA","x":64.7,"y":1},{"r":"5m","c":"Mild","s":"HA","x":80,"y":1},
{"r":"5m","c":"Mild","s":"HO","x":-35,"y":0},{"r":"5m","c":"Mild","s":"HO","x":52.7,"y":0},{"r":"5m","c":"Mild","s":"HO","x":61.7,"y":0.005},{"r":"5m","c":"Mild","s":"HO","x":67.7,"y":0.016},{"r":"5m","c":"Mild","s":"HO","x":70.7,"y":0.056},{"r":"5m","c":"Mild","s":"HO","x":73.7,"y":0.165},{"r":"5m","c":"Mild","s":"HO","x":76.7,"y":0.33},{"r":"5m","c":"Mild","s":"HO","x":79,"y":0.455},{"r":"5m","c":"Mild","s":"HO","x":80,"y":0.53},

{"r":"5m","c":"Moderate","s":"5%","x":-35,"y":0.01},{"r":"5m","c":"Moderate","s":"5%","x":8.7,"y":0.01},{"r":"5m","c":"Moderate","s":"5%","x":11.7,"y":0.03},{"r":"5m","c":"Moderate","s":"5%","x":13.9,"y":0.11},{"r":"5m","c":"Moderate","s":"5%","x":15.4,"y":0.365},{"r":"5m","c":"Moderate","s":"5%","x":16.9,"y":0.69},{"r":"5m","c":"Moderate","s":"5%","x":18.4,"y":0.91},{"r":"5m","c":"Moderate","s":"5%","x":20.7,"y":0.99},{"r":"5m","c":"Moderate","s":"5%","x":22.2,"y":1},{"r":"5m","c":"Moderate","s":"5%","x":80,"y":1},
{"r":"5m","c":"Moderate","s":"10%","x":-35,"y":0.01},{"r":"5m","c":"Moderate","s":"10%","x":12.4,"y":0.01},{"r":"5m","c":"Moderate","s":"10%","x":14.4,"y":0.074},{"r":"5m","c":"Moderate","s":"10%","x":15.9,"y":0.40},{"r":"5m","c":"Moderate","s":"10%","x":17.4,"y":0.764},{"r":"5m","c":"Moderate","s":"10%","x":18.9,"y":0.945},{"r":"5m","c":"Moderate","s":"10%","x":20.7,"y":1},{"r":"5m","c":"Moderate","s":"10%","x":80,"y":1},
{"r":"5m","c":"Moderate","s":"20%","x":-35,"y":0.01},{"r":"5m","c":"Moderate","s":"20%","x":13.4,"y":0.01},{"r":"5m","c":"Moderate","s":"20%","x":15,"y":0.11},{"r":"5m","c":"Moderate","s":"20%","x":16.2,"y":0.455},{"r":"5m","c":"Moderate","s":"20%","x":17.4,"y":0.80},{"r":"5m","c":"Moderate","s":"20%","x":18.9,"y":0.98},{"r":"5m","c":"Moderate","s":"20%","x":19.9,"y":1},{"r":"5m","c":"Moderate","s":"20%","x":80,"y":1},
{"r":"5m","c":"Moderate","s":"50%","x":-35,"y":0.01},{"r":"5m","c":"Moderate","s":"50%","x":14.4,"y":0.01},{"r":"5m","c":"Moderate","s":"50%","x":15.7,"y":0.183},{"r":"5m","c":"Moderate","s":"50%","x":16.8,"y":0.546},{"r":"5m","c":"Moderate","s":"50%","x":17.8,"y":0.873},{"r":"5m","c":"Moderate","s":"50%","x":19,"y":1},{"r":"5m","c":"Moderate","s":"50%","x":80,"y":1},
{"r":"5m","c":"Moderate","s":"100%","x":-35,"y":0.01},{"r":"5m","c":"Moderate","s":"100%","x":15,"y":0.01},{"r":"5m","c":"Moderate","s":"100%","x":16,"y":0.147},{"r":"5m","c":"Moderate","s":"100%","x":17,"y":0.546},{"r":"5m","c":"Moderate","s":"100%","x":18,"y":0.89},{"r":"5m","c":"Moderate","s":"100%","x":19.2,"y":1},{"r":"5m","c":"Moderate","s":"100%","x":80,"y":1},
{"r":"5m","c":"Moderate","s":"HA","x":-35,"y":0.015},{"r":"5m","c":"Moderate","s":"HA","x":16.9,"y":0.015},{"r":"5m","c":"Moderate","s":"HA","x":19.2,"y":0.038},{"r":"5m","c":"Moderate","s":"HA","x":21.4,"y":0.183},{"r":"5m","c":"Moderate","s":"HA","x":23.4,"y":0.455},{"r":"5m","c":"Moderate","s":"HA","x":25.2,"y":0.764},{"r":"5m","c":"Moderate","s":"HA","x":27,"y":0.927},{"r":"5m","c":"Moderate","s":"HA","x":28.9,"y":0.99},{"r":"5m","c":"Moderate","s":"HA","x":30.4,"y":1},{"r":"5m","c":"Moderate","s":"HA","x":80,"y":1},
{"r":"5m","c":"Moderate","s":"HO","x":-35,"y":0},{"r":"5m","c":"Moderate","s":"HO","x":33.4,"y":0},{"r":"5m","c":"Moderate","s":"HO","x":35.4,"y":0.038},{"r":"5m","c":"Moderate","s":"HO","x":36.9,"y":0.22},{"r":"5m","c":"Moderate","s":"HO","x":38.4,"y":0.51},{"r":"5m","c":"Moderate","s":"HO","x":39.9,"y":0.80},{"r":"5m","c":"Moderate","s":"HO","x":41.6,"y":0.945},{"r":"5m","c":"Moderate","s":"HO","x":43.9,"y":0.996},{"r":"5m","c":"Moderate","s":"HO","x":45.4,"y":1},{"r":"5m","c":"Moderate","s":"HO","x":80,"y":1},

{"r":"5m","c":"Strong","s":"5%","x":-35,"y":0.005},{"r":"5m","c":"Strong","s":"5%","x":-5,"y":0.005},{"r":"5m","c":"Strong","s":"5%","x":0,"y":0.01},{"r":"5m","c":"Strong","s":"5%","x":6.6,"y":0.02},{"r":"5m","c":"Strong","s":"5%","x":9.6,"y":0.03},{"r":"5m","c":"Strong","s":"5%","x":11.4,"y":0.074},{"r":"5m","c":"Strong","s":"5%","x":12.6,"y":0.22},{"r":"5m","c":"Strong","s":"5%","x":13.8,"y":0.49},{"r":"5m","c":"Strong","s":"5%","x":15,"y":0.78},{"r":"5m","c":"Strong","s":"5%","x":16.3,"y":0.945},{"r":"5m","c":"Strong","s":"5%","x":17.8,"y":1},{"r":"5m","c":"Strong","s":"5%","x":80,"y":1},
{"r":"5m","c":"Strong","s":"10%","x":-35,"y":0.005},{"r":"5m","c":"Strong","s":"10%","x":11.1,"y":0.005},{"r":"5m","c":"Strong","s":"10%","x":12.6,"y":0.074},{"r":"5m","c":"Strong","s":"10%","x":13.8,"y":0.365},{"r":"5m","c":"Strong","s":"10%","x":15,"y":0.728},{"r":"5m","c":"Strong","s":"10%","x":16.3,"y":0.945},{"r":"5m","c":"Strong","s":"10%","x":18.3,"y":1},{"r":"5m","c":"Strong","s":"10%","x":80,"y":1},
{"r":"5m","c":"Strong","s":"20%","x":-35,"y":0.005},{"r":"5m","c":"Strong","s":"20%","x":11.8,"y":0.005},{"r":"5m","c":"Strong","s":"20%","x":13.2,"y":0.13},{"r":"5m","c":"Strong","s":"20%","x":14.2,"y":0.49},{"r":"5m","c":"Strong","s":"20%","x":15.3,"y":0.836},{"r":"5m","c":"Strong","s":"20%","x":16.5,"y":0.99},{"r":"5m","c":"Strong","s":"20%","x":17.1,"y":1},{"r":"5m","c":"Strong","s":"20%","x":80,"y":1},
{"r":"5m","c":"Strong","s":"50%","x":-35,"y":0.005},{"r":"5m","c":"Strong","s":"50%","x":12.3,"y":0.005},{"r":"5m","c":"Strong","s":"50%","x":13.5,"y":0.165},{"r":"5m","c":"Strong","s":"50%","x":14.5,"y":0.546},{"r":"5m","c":"Strong","s":"50%","x":15.6,"y":0.89},{"r":"5m","c":"Strong","s":"50%","x":16.6,"y":1},{"r":"5m","c":"Strong","s":"50%","x":80,"y":1},
{"r":"5m","c":"Strong","s":"100%","x":-35,"y":0.005},{"r":"5m","c":"Strong","s":"100%","x":12.6,"y":0.005},{"r":"5m","c":"Strong","s":"100%","x":13.8,"y":0.183},{"r":"5m","c":"Strong","s":"100%","x":14.8,"y":0.58},{"r":"5m","c":"Strong","s":"100%","x":15.9,"y":0.927},{"r":"5m","c":"Strong","s":"100%","x":16.9,"y":1},{"r":"5m","c":"Strong","s":"100%","x":80,"y":1},
{"r":"5m","c":"Strong","s":"HA","x":-35,"y":0.003},{"r":"5m","c":"Strong","s":"HA","x":15.6,"y":0.003},{"r":"5m","c":"Strong","s":"HA","x":17.8,"y":0.038},{"r":"5m","c":"Strong","s":"HA","x":19.3,"y":0.183},{"r":"5m","c":"Strong","s":"HA","x":20.8,"y":0.455},{"r":"5m","c":"Strong","s":"HA","x":22.3,"y":0.764},{"r":"5m","c":"Strong","s":"HA","x":23.8,"y":0.945},{"r":"5m","c":"Strong","s":"HA","x":25.3,"y":0.996},{"r":"5m","c":"Strong","s":"HA","x":26.1,"y":1},{"r":"5m","c":"Strong","s":"HA","x":80,"y":1},
{"r":"5m","c":"Strong","s":"HO","x":-35,"y":0},{"r":"5m","c":"Strong","s":"HO","x":26.1,"y":0},{"r":"5m","c":"Strong","s":"HO","x":27.9,"y":0.038},{"r":"5m","c":"Strong","s":"HO","x":29.1,"y":0.22},{"r":"5m","c":"Strong","s":"HO","x":30.3,"y":0.51},{"r":"5m","c":"Strong","s":"HO","x":31.3,"y":0.80},{"r":"5m","c":"Strong","s":"HO","x":32.4,"y":0.945},{"r":"5m","c":"Strong","s":"HO","x":33.6,"y":0.996},{"r":"5m","c":"Strong","s":"HO","x":35.1,"y":1},{"r":"5m","c":"Strong","s":"HO","x":80,"y":1},

{"r":"5m","c":"Mild","s":"note","x":-19.8,"y":0.235,"t":"False"},
{"r":"5m","c":"Mild","s":"note","x":-19.8,"y":0.12,"t":"Alarm"},
{"r":"5m","c":"Mild","s":"vnote","x":6.5,"y":0.94,"t":"Transmission hike"},
{"r":"5m","c":"Mild","s":"arrow","x":-38.5,"x2":-1.5,"y":0.075},
{"r":"5m","c":"Mild","s":"headL","x":-38.5,"y":0.075},
{"r":"5m","c":"Mild","s":"headR","x":-1.5,"y":0.075}
]},
"facet":{
  "row":{"field":"r","type":"nominal","sort":["1.25m","2.5m","5m"],
    "header":{"labelExpr":"datum.value + ' population'","labelOrient":"right","labelAngle":90,"labelFontSize":19,"labelFontWeight":"bold","labelColor":"#1a1a1a","labelPadding":8,
      "title":"Fraction of simulations meeting criteria to take mitigative action","titleOrient":"left","titleFontSize":19.3,"titleFontWeight":"normal","titleColor":"#000000","titlePadding":-4}},
  "column":{"field":"c","type":"nominal","sort":["Mild","Moderate","Strong"],
    "header":{"labelExpr":"datum.value + ' transmission hike'","labelOrient":"top","labelFontSize":20,"labelFontWeight":"bold","labelColor":"#1a1a1a","labelPadding":3,
      "title":"Day since transmission hike","titleOrient":"bottom","titleFontSize":20,"titleFontWeight":"normal","titleColor":"#000000","titlePadding":-3}}
},
"spacing":{"row":12,"column":26},
"resolve":{"scale":{"x":"shared","y":"shared"}},
"spec":{
  "width":283,"height":202,
  "layer":[
    {"transform":[{"filter":"datum.s == '5%' && datum.x == -35"}],
     "mark":{"type":"rule","color":"#4d4d4d","strokeWidth":2,"strokeDash":[8,5]},
     "encoding":{"x":{"datum":0,"type":"quantitative"}}},
    {"transform":[{"filter":{"field":"s","oneOf":["5%","10%","20%","50%","100%"]}}],
     "mark":{"type":"line","strokeWidth":2.6,"interpolate":"monotone"},
     "encoding":{
       "x":{"field":"x","type":"quantitative","scale":{"domain":[-40.75,85.75],"nice":false,"zero":false},"axis":{"values":[-40,0,40,80],"title":null,"format":"d"}},
       "y":{"field":"y","type":"quantitative","scale":{"domain":[-0.05,1.05],"nice":false,"zero":false},"axis":{"values":[0,0.25,0.5,0.75,1],"format":".2f","title":null}},
       "color":{"field":"s","type":"nominal","scale":{"domain":["5%","10%","20%","50%","100%"],"range":["#40206A","#7D2A78","#B5365F","#EA6A32","#F9A51E"]},
         "legend":{"title":["Sentinel Surveillance","sampling effort:"],"orient":"none","legendX":951,"legendY":182,"titleAnchor":"middle","titleAlign":"center","symbolOffset":-39,"titlePadding":2}}
     }},
    {"transform":[{"filter":{"field":"s","oneOf":["HA","HO"]}}],
     "mark":{"type":"line","strokeWidth":2.6,"interpolate":"monotone"},
     "encoding":{
       "x":{"field":"x","type":"quantitative"},
       "y":{"field":"y","type":"quantitative"},
       "stroke":{"field":"s","type":"nominal","scale":{"domain":["HA","HO"],"range":["#1B9E77","#1F78C0"]},
         "legend":{"title":null,"orient":"none","legendX":951,"legendY":400,"rowPadding":7,"labelExpr":"datum.value == 'HA' ? 'Hospital Admissions' : 'Hospital Occupancy'"}}
     }},
    {"transform":[{"filter":"datum.s == 'note'"}],
     "mark":{"type":"text","fontStyle":"italic","fontSize":19,"color":"#A0A0A0","align":"center","baseline":"middle"},
     "encoding":{"x":{"field":"x","type":"quantitative"},"y":{"field":"y","type":"quantitative"},"text":{"field":"t"}}},
    {"transform":[{"filter":"datum.s == 'vnote'"}],
     "mark":{"type":"text","fontStyle":"italic","fontSize":20,"color":"#A0A0A0","align":"left","baseline":"middle","angle":90},
     "encoding":{"x":{"field":"x","type":"quantitative"},"y":{"field":"y","type":"quantitative"},"text":{"field":"t"}}},
    {"transform":[{"filter":"datum.s == 'arrow'"}],
     "mark":{"type":"rule","color":"#A0A0A0","strokeWidth":2},
     "encoding":{"x":{"field":"x","type":"quantitative"},"x2":{"field":"x2"},"y":{"field":"y","type":"quantitative"}}},
    {"transform":[{"filter":"datum.s == 'headL'"}],
     "mark":{"type":"point","shape":"M1.1,-0.7L0,0L1.1,0.7","filled":false,"color":"#A0A0A0","strokeWidth":2,"size":220,"opacity":1},
     "encoding":{"x":{"field":"x","type":"quantitative"},"y":{"field":"y","type":"quantitative"}}},
    {"transform":[{"filter":"datum.s == 'headR'"}],
     "mark":{"type":"point","shape":"M-1.1,-0.7L0,0L-1.1,0.7","filled":false,"color":"#A0A0A0","strokeWidth":2,"size":220,"opacity":1},
     "encoding":{"x":{"field":"x","type":"quantitative"},"y":{"field":"y","type":"quantitative"}}}
  ]
},
"config":{
  "font":"Liberation Sans",
  "view":{"stroke":"#333333","strokeWidth":1.2},
  "axis":{"gridColor":"#EBEBEB","gridWidth":1,"domain":false,"tickColor":"#333333","tickSize":5,"labelFontSize":19,"labelColor":"#1a1a1a","labelPadding":2},
  "legend":{"symbolType":"stroke","symbolSize":560,"symbolStrokeWidth":2.6,"labelFontSize":20,"labelLimit":320,"labelColor":"#1a1a1a","titleFontSize":20,"titleFontWeight":"normal","titleColor":"#1a1a1a","titleLimit":320,"rowPadding":6,"labelOffset":8,"titleLineHeight":30,"titlePadding":6}
}
}
